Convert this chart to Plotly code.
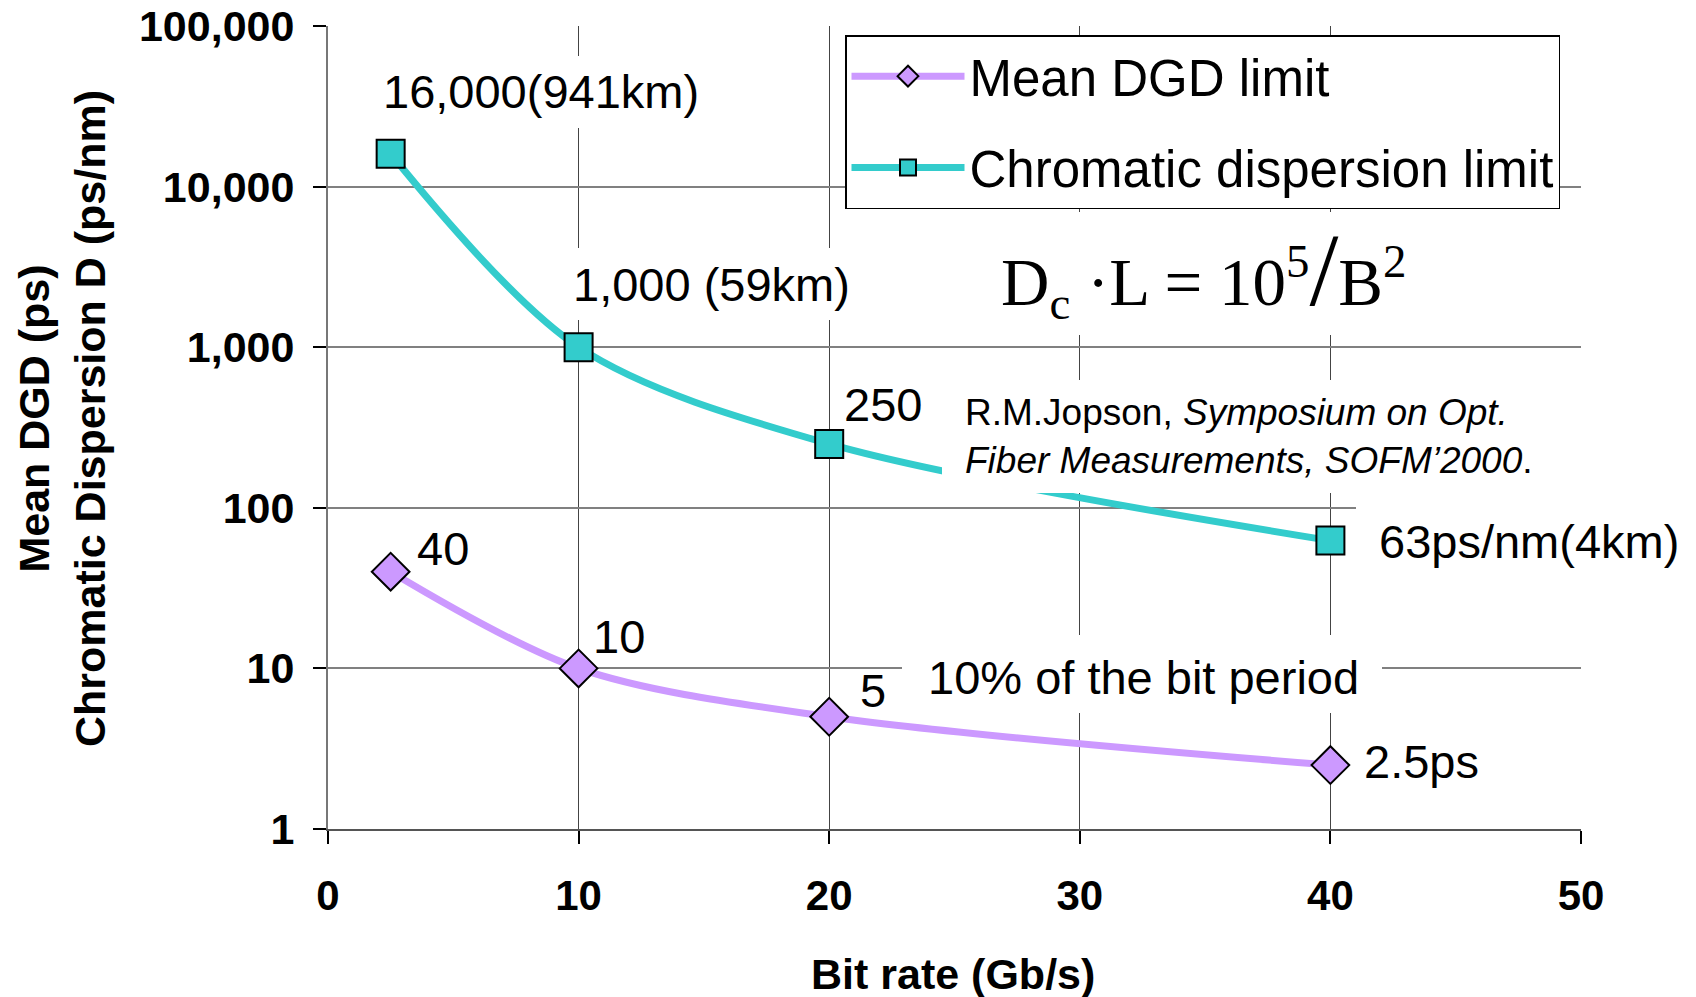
import numpy as np
import plotly.graph_objects as go

# ---------------- data ----------------
bit_rate = [2.5, 10, 20, 40]                       # Gb/s
dgd_limit = [40, 10, 5, 2.5]                       # ps
cd_limit = [16000, 1000, 250, 62.5]                # ps/nm

dgd_labels = ["40", "10", "5", "2.5ps"]
cd_labels = ["16,000(941km)", "1,000 (59km)", "250", "63ps/nm(4km)"]

x_ticks = [0, 10, 20, 30, 40, 50]
y_ticks = [1, 10, 100, 1000, 10000, 100000]
y_ticktext = ["1", "10", "100", "1,000", "10,000", "100,000"]

# ---------------- styling ----------------
W, H = 1696, 997
ML, MR, MT, MB = 328, 115, 26, 168
PW, PH = W - ML - MR, H - MT - MB

CYAN = "#33CCCC"
VIOLET = "#CC99FF"
SANS = "Liberation Sans, Arial, sans-serif"
SERIF = "Liberation Serif, Times New Roman, serif"


def px(xp):
    return (xp - ML) / PW


def py(yp):
    return (H - MB - yp) / PH


fig = go.Figure()
fig.add_trace(go.Scatter(
    x=bit_rate, y=dgd_limit, name="Mean DGD limit", mode="lines+markers",
    line=dict(color=VIOLET, width=7, shape="spline", smoothing=0.9),
    marker=dict(symbol="diamond", size=29, color=VIOLET, line=dict(color="black", width=2)),
    legendgroup="a",
))
fig.add_trace(go.Scatter(
    x=bit_rate, y=cd_limit, name="Chromatic dispersion limit", mode="lines+markers",
    line=dict(color=CYAN, width=7, shape="spline", smoothing=0.9),
    marker=dict(symbol="square", size=28, color=CYAN, line=dict(color="black", width=2)),
    legendgroup="b",
))

# white backgrounds behind text boxes (drawn over the gridlines and curves)
boxes = [
    (359, 718, 56, 128),     # 16,000 label
    (549, 869, 248, 320),    # 1,000 label
    (982, 1425, 212, 335),   # formula
    (942, 1552, 380, 493),   # Jopson reference
    (902, 1382, 635, 713),   # 10% of the bit period
    (1356, 1696, 503, 580),  # 63ps/nm label
]
for x0, x1, y0, y1 in boxes:
    fig.add_shape(type="rect", xref="paper", yref="paper",
                  x0=px(x0), x1=px(x1), y0=py(y1), y1=py(y0),
                  fillcolor="white", line=dict(width=0), layer="above")

ann_font = dict(family=SANS, size=47, color="black")
# data labels, anchored at their points
cd_shift = [(-10, 62), (-8, 63), (13, 39), (47, -1)]
dgd_shift = [(24, 23), (12, 32), (29, 26), (32, 4)]
for xv, yv, t, (dx, dy) in zip(bit_rate, cd_limit, cd_labels, cd_shift):
    fig.add_annotation(x=xv, y=np.log10(yv), text=t, showarrow=False,
                       xanchor="left", yanchor="middle", xshift=dx, yshift=dy, font=ann_font)
for xv, yv, t, (dx, dy) in zip(bit_rate, dgd_limit, dgd_labels, dgd_shift):
    fig.add_annotation(x=xv, y=np.log10(yv), text=t, showarrow=False,
                       xanchor="left", yanchor="middle", xshift=dx, yshift=dy, font=ann_font)

fig.add_annotation(xref="paper", yref="paper", x=px(1143.5), y=py(677),
                   text="10% of the bit period", showarrow=False,
                   xanchor="center", yanchor="middle", font=ann_font)

fig.add_annotation(xref="paper", yref="paper", x=px(963), y=py(436),
                   text="R.M.Jopson, <i>Symposium on Opt.</i><br><i>Fiber Measurements, SOFM\u20192000</i>.",
                   showarrow=False, align="left", xanchor="left", yanchor="middle",
                   font=dict(family=SANS, size=37, color="black"))

fig.add_annotation(xref="paper", yref="paper", x=px(1204), y=py(270),
                   text="D<sub>c</sub> \u00b7L = 10<sup>5</sup><span style='font-size:104px'>/</span>B<sup>2</sup>",
                   showarrow=False, xanchor="center", yanchor="middle",
                   font=dict(family=SERIF, size=67, color="black"))

# axis titles
fig.add_annotation(xref="paper", yref="paper", x=px(953), y=py(974),
                   text="<b>Bit rate (Gb/s)</b>", showarrow=False,
                   xanchor="center", yanchor="middle",
                   font=dict(family=SANS, size=43, color="black"))
fig.add_annotation(xref="paper", yref="paper", x=px(62), y=py(419),
                   text="<b>Mean DGD (ps)</b><br><b>Chromatic Dispersion D (ps/nm)</b>",
                   showarrow=False, textangle=-90, xanchor="center", yanchor="middle",
                   font=dict(family=SANS, size=43, color="black"))

fig.update_layout(
    width=W, height=H, autosize=False,
    margin=dict(l=ML, r=MR, t=MT, b=MB, pad=0, autoexpand=False),
    paper_bgcolor="white", plot_bgcolor="white",
    showlegend=True,
    legend=dict(x=px(845), y=py(35), xanchor="left", yanchor="top",
                bgcolor="white", bordercolor="black", borderwidth=1.5,
                font=dict(family=SANS, size=51, color="black"),
                itemwidth=113, tracegroupgap=22, traceorder="grouped"),
    xaxis=dict(range=[0, 50], tickvals=x_ticks, showgrid=True, gridcolor="#444444", gridwidth=1,
               zeroline=False, showline=True, linecolor="#555555", linewidth=2,
               ticks="outside", ticklen=13, tickwidth=1.5, tickcolor="black",
               ticklabelstandoff=16, automargin=False,
               tickfont=dict(family=SANS, size=42, color="black", weight="bold")),
    yaxis=dict(type="log", range=[0, 5], tickvals=y_ticks, ticktext=y_ticktext,
               showgrid=True, gridcolor="#808080", gridwidth=1.5,
               zeroline=False, showline=True, linecolor="#777777", linewidth=2,
               ticks="outside", ticklen=13, tickwidth=1.5, tickcolor="black",
               ticklabelstandoff=10, automargin=False,
               tickfont=dict(family=SANS, size=43, color="black", weight="bold")),
)

fig.write_html("out.html", config={"displayModeBar": False})
